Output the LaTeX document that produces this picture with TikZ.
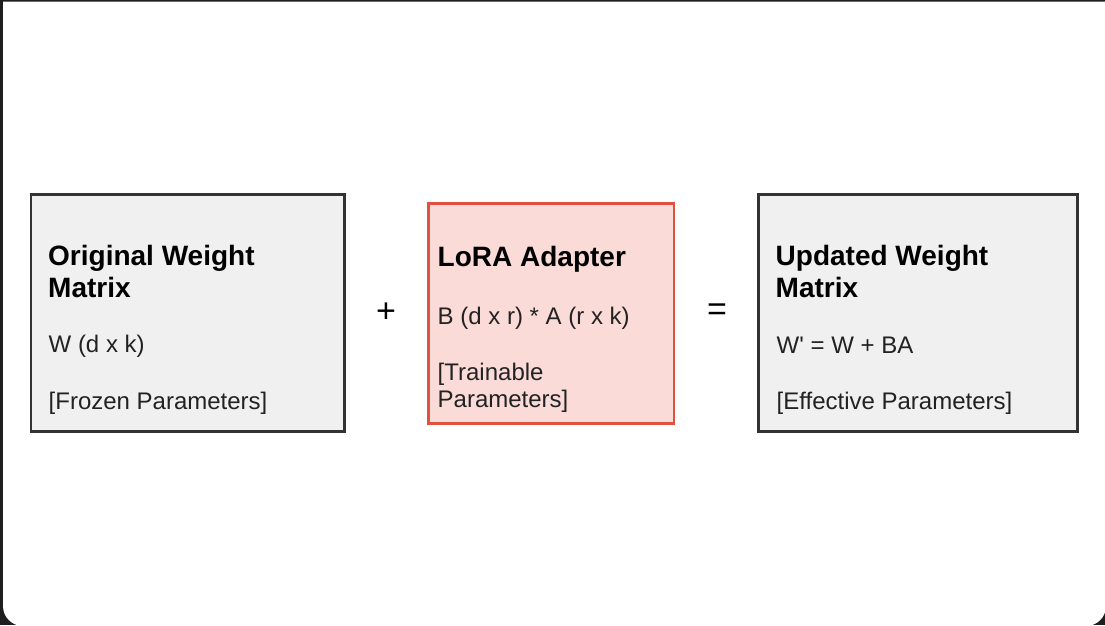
\documentclass[tikz,border=0pt]{standalone}
\usepackage{fontspec}
\setmainfont{Liberation Sans}
\definecolor{frame}{HTML}{1E1E1E}
\definecolor{boxline}{HTML}{333333}
\definecolor{boxfill}{HTML}{F0F0F0}
\definecolor{redline}{HTML}{E2503F}
\definecolor{redfill}{HTML}{FADBD8}
\definecolor{bodytext}{HTML}{222222}
\tikzset{
  matbox/.style={draw=boxline, fill=boxfill, line width=2.5pt, inner sep=0pt},
  lorabox/.style={draw=redline, fill=redfill, line width=2.5pt, inner sep=0pt},
  titletext/.style={anchor=base west, inner sep=0pt, text=black, font=\fontsize{28}{32}\selectfont\bfseries},
  bodytxt/.style={anchor=base west, inner sep=0pt, text=bodytext, font=\fontsize{24}{27.6}\selectfont},
  optext/.style={anchor=center, inner sep=0pt, text=black, font=\fontsize{34}{40}\selectfont},
}
\begin{document}
\begin{tikzpicture}[x=1pt,y=-1pt]
\useasboundingbox (0,0) rectangle (1105,625);
\fill[frame] (0,0) rectangle (1105,625);
\fill[white] (3,1.5) -- (1106,1.5) -- (1106,300) [rounded corners=20] -- (1106,626) -- (3,626) -- (3,300) [sharp corners] -- cycle;

% boxes
\node[matbox, minimum width=313.3pt, minimum height=237.4pt] (orig) at (187.7,313) {};
\node[lorabox, minimum width=245.7pt, minimum height=220pt] (lora) at (551.2,313.3) {};
\node[matbox, minimum width=319pt, minimum height=237.4pt] (upd) at (917.8,313) {};

% box 1 text
\node[titletext] (o1) at (48,265.5) {Original Weight};
\node[titletext] (o2) at (48,297) {Matrix};
\node[bodytxt] (o3) at (48.5,352.7) {W (d x k)};
\node[bodytxt] (o4) at (48.5,409) {[Frozen Parameters]};

% box 2 text
\node[titletext] (l1) at (437.5,266.7) {LoRA Adapter};
\node[bodytxt] (l2) at (437.5,324) {B (d x r) * A (r x k)};
\node[bodytxt] (l3) at (437.5,380.5) {[Trainable};
\node[bodytxt] (l4) at (437.5,407.7) {Parameters]};

% box 3 text
\node[titletext] (u1) at (775.5,265.5) {Updated Weight};
\node[titletext] (u2) at (775.5,297) {Matrix};
\node[bodytxt] (u3) at (776.5,353.3) {W\textquotesingle{} = W + BA};
\node[bodytxt] (u4) at (776.5,409) {[Effective Parameters]};

% operators
\node[optext] (plus) at (386,313) {+};
\node[optext] (eq) at (717,312) {=};
\end{tikzpicture}
\end{document}
